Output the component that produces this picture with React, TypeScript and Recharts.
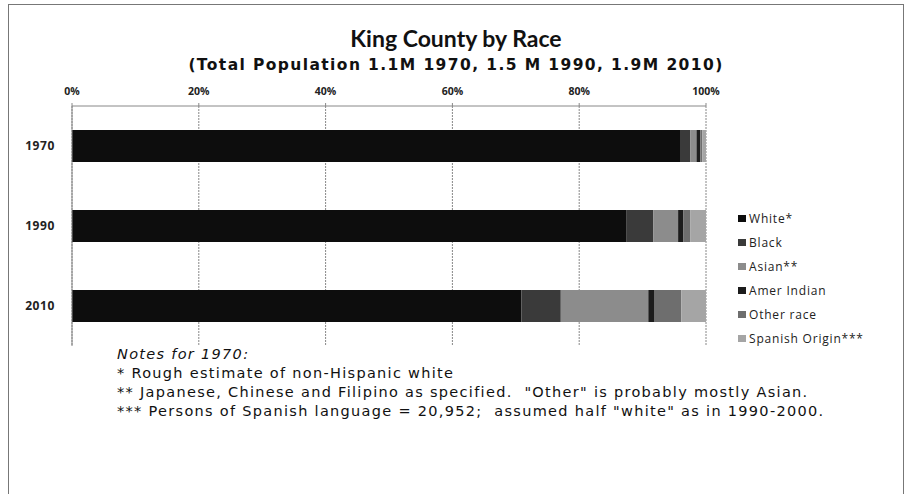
import React from "react";
import { BarChart, Bar, XAxis, YAxis, CartesianGrid } from "recharts";

const years = ["1970", "1990", "2010"];
const white = [95.9, 87.4, 70.9];
const black = [1.6, 4.3, 6.2];
const asian = [1.0, 3.9, 13.8];
const amerIndian = [0.6, 0.8, 1.0];
const otherRace = [0.3, 1.1, 4.2];
const spanish = [0.6, 2.5, 3.9];

const xTicks = [0, 0.2, 0.4, 0.6, 0.8, 1];

const SERIES = [
  { key: "white", name: "White*", color: "#0d0d0d" },
  { key: "black", name: "Black", color: "#3a3a3a" },
  { key: "asian", name: "Asian**", color: "#8c8c8c" },
  { key: "amer", name: "Amer Indian", color: "#1c1c1c" },
  { key: "other", name: "Other race", color: "#6e6e6e" },
  { key: "spanish", name: "Spanish Origin***", color: "#a5a5a5" },
];

const data = years.map((year, i) => ({
  year,
  white: white[i],
  black: black[i],
  asian: asian[i],
  amer: amerIndian[i],
  other: otherRace[i],
  spanish: spanish[i],
}));

const FONT = "'Open Sans', 'DejaVu Sans', sans-serif";
const WIDE = "'DejaVu Sans', sans-serif";

function LegendBox() {
  return (
    <div
      style={{
        position: "absolute",
        left: 738,
        top: 206,
        fontFamily: FONT,
        fontSize: 12,
        letterSpacing: 0.8,
        color: "#222",
      }}
    >
      {SERIES.map((s) => (
        <div
          key={s.key}
          style={{ display: "flex", alignItems: "center", height: 24 }}
        >
          <span
            style={{
              display: "inline-block",
              width: 8,
              height: 7,
              background: s.color,
              marginRight: 3,
            }}
          />
          {s.name}
        </div>
      ))}
    </div>
  );
}

export default function App() {
  return (
    <div
      style={{
        position: "absolute",
        left: 0,
        top: 0,
        width: 912,
        height: 494,
        background: "#fff",
        overflow: "hidden",
      }}
    >
      <div
        style={{
          position: "absolute",
          left: 8,
          top: 4,
          width: 896,
          height: 520,
          border: "1px solid #777",
          boxSizing: "border-box",
        }}
      />
      <div
        style={{
          position: "absolute",
          left: 0,
          width: 912,
          top: 24,
          textAlign: "center",
          fontFamily: "Lato, sans-serif",
          fontWeight: 700,
          fontSize: 23,
          color: "#111",
        }}
      >
        King County by Race
      </div>
      <div
        style={{
          position: "absolute",
          left: 0,
          width: 912,
          top: 56,
          textAlign: "center",
          fontFamily: WIDE,
          fontWeight: 700,
          fontSize: 15.5,
          letterSpacing: 1.4,
          color: "#111",
        }}
      >
        (Total Population 1.1M 1970, 1.5 M 1990, 1.9M 2010)
      </div>
      <div style={{ position: "absolute", left: 0, top: 0 }}>
        <BarChart
          width={912}
          height={494}
          data={data}
          layout="vertical"
          stackOffset="expand"
          barSize={32}
          margin={{ top: 90, left: 22, right: 206, bottom: 148 }}
        >
          <CartesianGrid
            horizontal={false}
            stroke="#888"
            strokeDasharray="2 1"
          />
          <XAxis
            type="number"
            orientation="top"
            domain={[0, 1]}
            ticks={xTicks}
            height={16}
            tickFormatter={(v) => `${Math.round(v * 100)}%`}
            tick={{ fontFamily: FONT, fontSize: 10.5, fill: "#222", fontWeight: 700 }}
            tickSize={3}
            tickMargin={8}
            stroke="#888"
          />
          <YAxis
            type="category"
            dataKey="year"
            width={50}
            tickLine={false}
            tickMargin={11}
            tick={{ fontFamily: FONT, fontSize: 12, fill: "#222", fontWeight: 700, letterSpacing: 0.6 }}
            stroke="#888"
          />
          {SERIES.map((s) => (
            <Bar
              key={s.key}
              dataKey={s.key}
              name={s.name}
              stackId="a"
              fill={s.color}
              isAnimationActive={false}
            />
          ))}
        </BarChart>
      </div>
      <LegendBox />
      <div
        style={{
          position: "absolute",
          left: 117,
          top: 345,
          fontFamily: WIDE,
          fontSize: 14.5,
          letterSpacing: 1.3,
          lineHeight: "19px",
          color: "#111",
        }}
      >
        <div style={{ fontStyle: "italic" }}>Notes for 1970:</div>
        <div>* Rough estimate of non-Hispanic white</div>
        <div>
          ** Japanese, Chinese and Filipino as specified.&nbsp; "Other" is probably mostly Asian.
        </div>
        <div>
          *** Persons of Spanish language = 20,952;&nbsp; assumed half "white" as in 1990-2000.
        </div>
      </div>
    </div>
  );
}
